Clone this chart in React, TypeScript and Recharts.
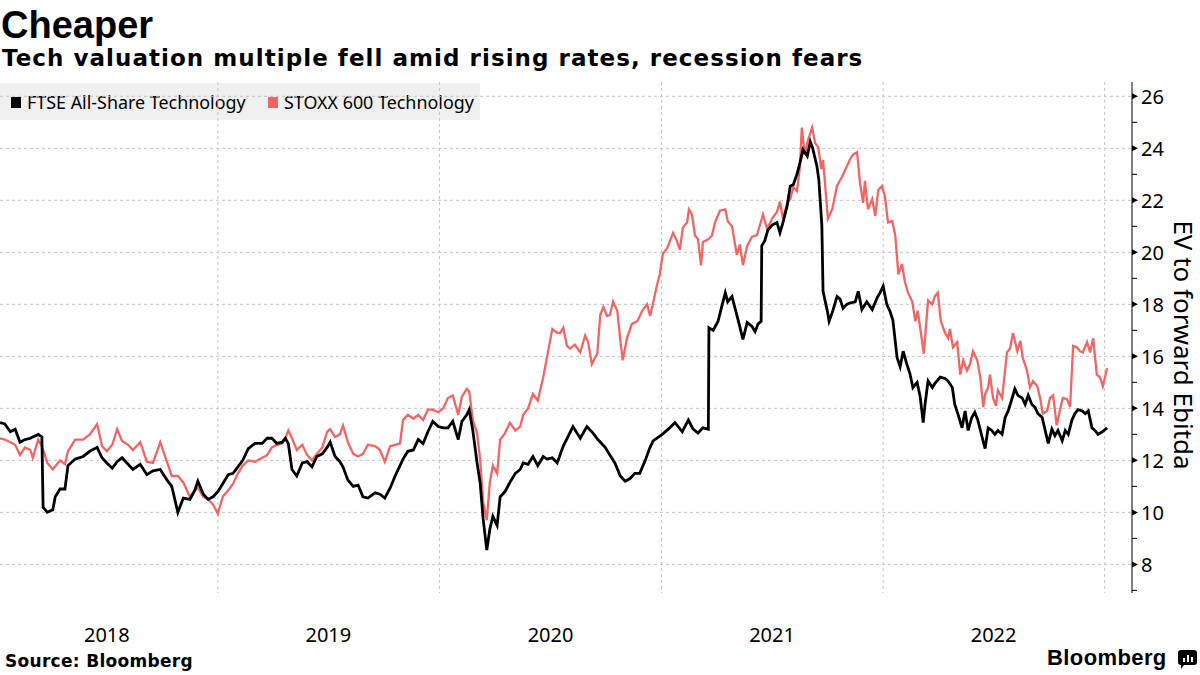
import React from 'react';
import { LineChart, Line, XAxis, YAxis, CartesianGrid } from 'recharts';

// day = days since 1 Jan 2018, value = EV / forward Ebitda
const ftse: [number, number][] = [
  [6, 13.45], [14, 13.4], [23, 13.1], [31, 13.2], [39, 12.7], [47, 12.8], [56, 12.85], [60, 12.9], [69, 13.0], [75, 12.9],
  [77, 10.2], [84, 10.0], [93, 10.1], [97, 10.6], [105, 10.9], [113, 10.9], [118, 11.8], [130, 12.05], [143, 12.15], [154, 12.35],
  [166, 12.5], [174, 12.1], [182, 11.9], [191, 11.7], [199, 11.95], [207, 12.1], [217, 11.85], [225, 11.65], [237, 11.85], [248, 11.45],
  [258, 11.6], [270, 11.65], [281, 11.25], [289, 11.0], [299, 10.0], [308, 10.55], [319, 10.5], [327, 10.85], [332, 11.2], [341, 10.7],
  [349, 10.5], [357, 10.6], [365, 10.8], [373, 11.1], [382, 11.45], [390, 11.5], [398, 11.75], [406, 12.0], [415, 12.45], [426, 12.65],
  [438, 12.65], [446, 12.85], [454, 12.85], [462, 12.65], [471, 12.7], [476, 12.85], [481, 12.65], [487, 11.65], [495, 11.4], [504, 11.9],
  [512, 11.95], [520, 11.75], [528, 12.15], [537, 12.25], [545, 12.5], [550, 12.7], [558, 12.15], [566, 11.95], [571, 11.75], [579, 11.25],
  [588, 11.0], [596, 11.05], [604, 10.6], [612, 10.55], [624, 10.75], [632, 10.7], [640, 10.55], [649, 10.95], [657, 11.4], [665, 11.8],
  [670, 12.05], [678, 12.35], [687, 12.4], [695, 12.8], [703, 12.65], [711, 13.1], [719, 13.5], [728, 13.3], [736, 13.25], [744, 13.25],
  [752, 13.5], [761, 12.8], [767, 13.5], [775, 13.75], [779, 13.95], [785, 13.15], [792, 11.9], [797, 11.15], [802, 9.75], [808, 8.55],
  [813, 9.35], [818, 9.85], [825, 9.5], [830, 10.6], [838, 10.8], [846, 11.15], [855, 11.5], [863, 11.65], [868, 11.9], [876, 11.85],
  [884, 12.15], [892, 11.8], [901, 12.15], [907, 12.05], [916, 12.1], [924, 11.9], [934, 12.55], [950, 13.3], [962, 12.85], [973, 13.3],
  [983, 13.05], [991, 12.8], [1003, 12.5], [1011, 12.2], [1019, 11.9], [1028, 11.4], [1036, 11.2], [1044, 11.3], [1052, 11.5], [1060, 11.5],
  [1069, 12.0], [1077, 12.5], [1082, 12.75], [1097, 13.0], [1107, 13.2], [1118, 13.45], [1130, 13.1], [1140, 13.55], [1148, 13.2], [1156, 13.05],
  [1164, 13.25], [1173, 13.2], [1174, 17.1], [1181, 17.0], [1189, 17.35], [1196, 18.0], [1201, 18.45], [1205, 18.1], [1212, 18.3], [1217, 17.85],
  [1222, 17.4], [1230, 16.65], [1237, 17.3], [1245, 17.15], [1250, 16.95], [1255, 17.25], [1260, 17.35], [1261, 20.25], [1266, 20.45], [1271, 20.85],
  [1278, 21.05], [1286, 21.15], [1291, 20.75], [1296, 21.15], [1303, 21.8], [1308, 22.55], [1313, 22.6], [1319, 23.0], [1324, 23.45], [1329, 23.95],
  [1336, 23.7], [1341, 24.25], [1345, 24.0], [1352, 23.3], [1355, 22.8], [1360, 21.05], [1362, 18.5], [1369, 17.75], [1372, 17.35], [1378, 17.75],
  [1385, 18.3], [1390, 18.2], [1395, 17.85], [1401, 18.0], [1406, 18.05], [1415, 18.1], [1420, 18.5], [1426, 17.8], [1434, 18.1], [1443, 17.8],
  [1451, 18.25], [1456, 18.45], [1461, 18.7], [1467, 18.0], [1472, 17.75], [1477, 17.4], [1484, 15.95], [1489, 15.6], [1494, 16.2], [1500, 15.7],
  [1505, 15.35], [1510, 14.8], [1517, 15.0], [1522, 14.45], [1527, 13.45], [1530, 14.15], [1535, 15.05], [1542, 14.8], [1546, 14.95], [1555, 15.2],
  [1563, 15.15], [1568, 15.05], [1575, 14.8], [1579, 14.15], [1584, 13.8], [1591, 13.25], [1596, 13.9], [1601, 13.15], [1607, 13.65], [1612, 13.85],
  [1617, 13.55], [1624, 12.9], [1629, 12.45], [1634, 13.25], [1640, 13.15], [1645, 13.0], [1650, 13.15], [1657, 13.0], [1662, 13.65], [1667, 13.9],
  [1673, 14.35], [1678, 14.75], [1683, 14.5], [1690, 14.4], [1695, 14.15], [1700, 14.5], [1706, 14.15], [1711, 14.05], [1716, 13.8], [1723, 13.65],
  [1728, 13.15], [1733, 12.65], [1739, 13.2], [1744, 12.95], [1749, 13.15], [1756, 12.75], [1761, 13.15], [1766, 13.0], [1772, 13.55], [1777, 13.8],
  [1782, 13.95], [1789, 13.9], [1794, 13.8], [1799, 13.9], [1805, 13.25], [1810, 13.15], [1815, 13.0], [1822, 13.1], [1830, 13.25],
];

const stoxx: [number, number][] = [
  [6, 12.85], [14, 12.8], [23, 12.7], [31, 12.6], [39, 12.2], [47, 12.5], [56, 12.4], [60, 12.1], [69, 12.8], [75, 12.55],
  [84, 11.9], [93, 11.65], [105, 12.0], [113, 11.85], [118, 12.35], [130, 12.8], [143, 12.8], [154, 13.0], [166, 13.4], [174, 12.55],
  [182, 12.35], [191, 12.6], [199, 13.2], [207, 12.75], [217, 12.6], [225, 12.4], [237, 12.7], [248, 11.95], [258, 11.9], [270, 12.7],
  [281, 11.95], [289, 11.4], [299, 11.4], [308, 11.15], [319, 10.6], [327, 10.85], [332, 10.95], [341, 10.6], [349, 10.5], [357, 10.3],
  [365, 9.95], [373, 10.6], [382, 10.85], [390, 11.1], [398, 11.5], [406, 11.8], [415, 12.0], [426, 11.95], [438, 12.1], [446, 12.2],
  [454, 12.5], [462, 12.6], [471, 12.65], [476, 12.85], [481, 13.15], [487, 12.85], [495, 12.4], [504, 12.6], [512, 12.2], [520, 12.0],
  [528, 12.25], [537, 12.5], [545, 13.1], [550, 13.2], [558, 12.9], [566, 13.0], [571, 13.35], [579, 12.7], [588, 12.25], [596, 12.15],
  [604, 12.25], [612, 12.6], [624, 12.55], [632, 12.4], [640, 11.95], [649, 12.55], [657, 12.6], [665, 12.65], [670, 13.55], [678, 13.75],
  [687, 13.6], [695, 13.75], [703, 13.55], [711, 13.95], [719, 13.95], [728, 13.85], [736, 14.0], [744, 14.4], [752, 14.5], [761, 13.75],
  [767, 14.45], [775, 14.75], [779, 14.65], [785, 13.55], [792, 13.05], [797, 12.05], [802, 10.4], [808, 9.7], [813, 11.15], [818, 11.8],
  [825, 11.5], [830, 12.8], [838, 13.05], [846, 13.45], [855, 13.15], [863, 13.3], [868, 13.75], [876, 14.0], [884, 14.55], [892, 14.3],
  [901, 15.2], [907, 15.95], [916, 17.05], [924, 16.9], [929, 16.9], [934, 17.1], [940, 16.4], [945, 16.3], [953, 16.45], [962, 16.15],
  [970, 16.8], [975, 16.55], [981, 15.7], [990, 16.1], [995, 17.6], [1000, 17.9], [1006, 17.55], [1011, 17.6], [1016, 18.1], [1023, 17.75],
  [1028, 16.6], [1032, 15.85], [1039, 16.7], [1047, 17.25], [1056, 17.35], [1064, 17.75], [1072, 18.0], [1077, 17.55], [1082, 18.05], [1089, 18.8],
  [1093, 19.15], [1098, 19.95], [1105, 20.15], [1110, 20.45], [1115, 20.75], [1121, 20.45], [1126, 20.1], [1131, 20.95], [1138, 21.15], [1141, 21.65],
  [1146, 21.45], [1151, 20.65], [1156, 20.5], [1161, 19.5], [1164, 20.4], [1173, 20.5], [1179, 20.65], [1184, 21.15], [1192, 21.6], [1201, 21.65],
  [1205, 21.2], [1212, 21.0], [1220, 19.9], [1225, 20.3], [1230, 19.5], [1237, 20.25], [1245, 20.6], [1253, 20.65], [1258, 21.05], [1263, 21.45],
  [1270, 20.9], [1278, 21.3], [1286, 21.55], [1291, 21.95], [1296, 21.3], [1303, 21.9], [1308, 22.05], [1313, 22.5], [1319, 22.35], [1324, 23.3],
  [1327, 24.8], [1332, 23.75], [1337, 24.3], [1344, 24.8], [1349, 24.2], [1354, 24.05], [1359, 23.2], [1362, 23.55], [1367, 22.15], [1370, 21.3],
  [1377, 21.65], [1385, 22.55], [1393, 22.9], [1401, 23.3], [1406, 23.55], [1411, 23.75], [1418, 23.85], [1423, 22.65], [1428, 21.9], [1431, 22.75],
  [1436, 21.65], [1443, 22.05], [1448, 21.4], [1453, 22.4], [1459, 22.55], [1464, 22.15], [1469, 21.15], [1476, 21.2], [1481, 20.65], [1486, 19.15],
  [1492, 19.55], [1497, 18.85], [1502, 18.45], [1509, 18.1], [1514, 17.35], [1518, 17.75], [1525, 16.6], [1528, 16.1], [1535, 18.15], [1542, 18.0],
  [1546, 18.3], [1551, 18.45], [1556, 17.35], [1563, 16.9], [1568, 16.7], [1571, 17.05], [1576, 16.35], [1583, 16.55], [1588, 15.3], [1593, 15.85],
  [1599, 15.45], [1604, 15.7], [1609, 16.2], [1616, 15.85], [1621, 15.2], [1626, 14.05], [1629, 14.55], [1634, 14.8], [1637, 15.3], [1642, 14.4],
  [1647, 14.1], [1650, 14.7], [1657, 14.4], [1665, 16.15], [1670, 16.3], [1675, 16.9], [1682, 16.2], [1687, 16.6], [1691, 15.95], [1698, 15.45],
  [1703, 14.8], [1708, 15.05], [1715, 14.85], [1720, 14.35], [1724, 13.8], [1731, 13.9], [1736, 14.4], [1741, 14.5], [1747, 13.35], [1752, 13.9],
  [1757, 14.4], [1764, 14.35], [1769, 14.05], [1774, 16.4], [1780, 16.35], [1785, 16.2], [1790, 16.15], [1797, 16.55], [1802, 16.15], [1807, 16.7],
  [1813, 15.3], [1818, 15.2], [1823, 14.85], [1830, 15.55],
];

const years = ['2018', '2019', '2020', '2021', '2022'];
const yearMid = [182, 547, 913, 1278, 1643];
const yearStart = [365, 730, 1096, 1461, 1826];
const yTicks = [7, 8, 9, 10, 11, 12, 13, 14, 15, 16, 17, 18, 19, 20, 21, 22, 23, 24, 25, 26];
const yGrid = [8, 10, 12, 14, 16, 18, 20, 22, 24, 26];

const RED = '#f46464';
const LABEL_FONT = '"Noto Sans", sans-serif';

const ftseData = ftse.map(([day, v]) => ({ day, v }));
const stoxxData = stoxx.map(([day, v]) => ({ day, v }));

const YTick = (props: any) => {
  const { x, y, payload } = props;
  const major = payload.value % 2 === 0;
  if (!major) return <line x1={x} y1={y} x2={x + 5} y2={y} stroke="#000" strokeWidth={1} />;
  return (
    <g>
      <polygon points={`${x},${y - 3} ${x + 6},${y} ${x},${y + 3}`} fill="#000" />
      <text x={x + 9} y={y} dominantBaseline="central" fontSize={20} fontFamily={LABEL_FONT} fill="#000">
        {payload.value}
      </text>
    </g>
  );
};

const XTick = (props: any) => {
  const { x, y, payload } = props;
  const label = years[yearMid.indexOf(payload.value)];
  return (
    <text x={x} y={y + 49} textAnchor="middle" fontSize={20} fontFamily={LABEL_FONT} fill="#000">
      {label}
    </text>
  );
};

const LegendItem = ({ left, color, text }: { left: number; color: string; text: string }) => (
  <>
    <div style={{ position: 'absolute', left, top: 97, width: 10, height: 11, background: color }} />
    <div style={{ position: 'absolute', left: left + 16, top: 94, fontFamily: LABEL_FONT, fontSize: 17.9, lineHeight: '17px', color: '#000', whiteSpace: 'nowrap' }}>
      {text}
    </div>
  </>
);

export default function App() {
  return (
    <div style={{ position: 'absolute', left: 0, top: 0, width: 1200, height: 675, background: '#fff' }}>
      <div style={{ position: 'absolute', left: 1, top: 6, fontFamily: '"Liberation Sans", Arial, sans-serif', fontWeight: 700, fontSize: 38, lineHeight: '38px', color: '#000' }}>
        Cheaper
      </div>
      <div style={{ position: 'absolute', left: 2, top: 47, fontFamily: '"DejaVu Sans", sans-serif', fontWeight: 700, fontSize: 23, lineHeight: '23px', letterSpacing: 1.05, color: '#000', whiteSpace: 'nowrap' }}>
        Tech valuation multiple fell amid rising rates, recession fears
      </div>

      <div style={{ position: 'absolute', left: 0, top: 83, width: 480, height: 37, background: '#f0f0f0' }} />
      <LegendItem left={11} color="#000" text="FTSE All-Share Technology" />
      <LegendItem left={268} color={RED} text="STOXX 600 Technology" />

      <div style={{ position: 'absolute', left: 0, top: 0 }}>
        <LineChart width={1200} height={675} margin={{ top: 82, right: 0, bottom: 0, left: 0 }}>
          <CartesianGrid stroke="#c4c4c4" strokeDasharray="3 3" horizontalValues={yGrid} verticalValues={yearStart} />
          <XAxis
            type="number"
            dataKey="day"
            domain={[6, 1871]}
            allowDataOverflow
            ticks={yearMid}
            tick={<XTick />}
            axisLine={false}
            tickLine={false}
            tickSize={0}
            tickMargin={0}
            height={82}
            interval={0}
          />
          <YAxis
            orientation="right"
            type="number"
            domain={[6.9, 26.55]}
            allowDataOverflow
            ticks={yTicks}
            tick={<YTick />}
            axisLine={{ stroke: '#000', strokeWidth: 1 }}
            tickLine={false}
            tickSize={0}
            tickMargin={0}
            width={68}
            interval={0}
          />
          <Line data={stoxxData} dataKey="v" type="linear" stroke={RED} strokeWidth={2.3} dot={false} isAnimationActive={false} />
          <Line data={ftseData} dataKey="v" type="linear" stroke="#000" strokeWidth={2.8} dot={false} isAnimationActive={false} />
        </LineChart>
      </div>

      <svg style={{ position: 'absolute', left: 1160, top: 200 }} width={40} height={290}>
        <text x={24} y={145} style={{ writingMode: 'vertical-rl' }} textAnchor="middle" fontFamily={LABEL_FONT} fontSize={26} fill="#000">
          EV to forward Ebitda
        </text>
      </svg>

      <div style={{ position: 'absolute', left: 5, top: 653, fontFamily: '"DejaVu Sans", sans-serif', fontWeight: 700, fontSize: 17, lineHeight: '17px', letterSpacing: 0.3, color: '#000' }}>
        Source: Bloomberg
      </div>
      <div style={{ position: 'absolute', left: 1047, top: 647, fontFamily: '"Liberation Sans", Arial, sans-serif', fontWeight: 700, fontSize: 22, lineHeight: '22px', color: '#000', letterSpacing: 0.4 }}>
        Bloomberg
      </div>
      <svg style={{ position: 'absolute', left: 1178, top: 650 }} width={20} height={20}>
        <path d="M3 0 H16 Q19 0 19 3 V12 Q19 15 16 15 H6 L3 19 V15 Q0 15 0 12 V3 Q0 0 3 0 Z" fill="#000" />
        <rect x={5} y={8} width={2} height={4} fill="#fff" />
        <rect x={9} y={5} width={2} height={7} fill="#fff" />
        <rect x={13} y={7} width={2} height={5} fill="#fff" />
      </svg>
    </div>
  );
}
